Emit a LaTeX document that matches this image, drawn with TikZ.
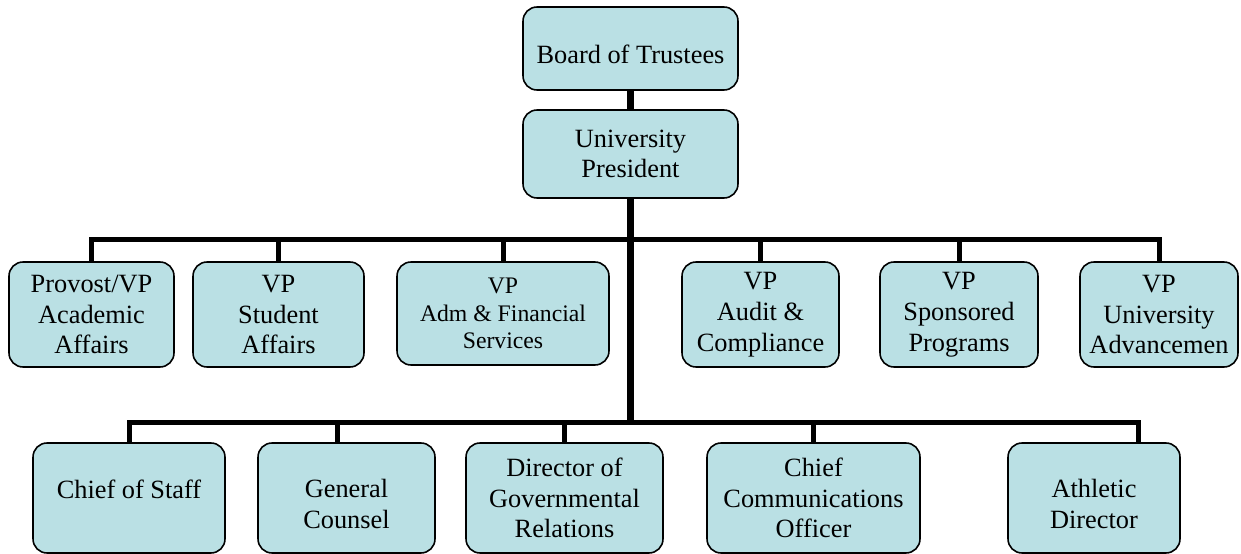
\documentclass[tikz,border=0pt]{standalone}
\usepackage{fontspec}
\setmainfont{Liberation Serif}
\usepackage{tikz}
\definecolor{paleteal}{RGB}{186,224,228}
\tikzset{
  post/.style={draw=black, line width=0.9pt, fill=paleteal, rounded corners=0.28cm,
    align=center, inner sep=2pt, minimum height=2.1cm,
    font=\fontsize{15}{17.5}\selectfont},
  trunk/.style={line width=0.14cm},
  bar/.style={line width=0.1cm}
}
\begin{document}
\begin{tikzpicture}[x=0.02cm,y=-0.02cm]
\useasboundingbox (0,0) rectangle (1241,554);
\node[post, minimum width=4.3cm, minimum height=1.66cm] (board) at (630.5,48.5) {~\\Board of Trustees};
\node[post, minimum width=4.3cm, minimum height=1.76cm] (pres) at (630.5,154) {University\\President};
\coordinate (upbar) at (630.5,239);
\coordinate (lowbar) at (630.5,422);
\node[post, minimum width=3.3cm] (provost) at (91.5,314.5) {Provost/VP\\Academic\\Affairs};
\node[post, minimum width=3.42cm] (stuaff) at (278.5,314.5) {VP\\Student\\Affairs};
\node[post, minimum width=4.24cm, minimum height=2.06cm, font=\fontsize{13.5}{15.5}\selectfont] (admfin) at (503,313.5) {VP\\Adm \& Financial\\Services};
\node[post, minimum width=3.14cm] (audit) at (760.5,314.5) {VP\\Audit \&\\Compliance};
\node[post, minimum width=3.16cm] (sponsor) at (959,314.5) {VP\\Sponsored\\Programs};
\node[post, minimum width=3.16cm] (advance) at (1159,314.5) {VP\\University\\Advancemen};
\node[post, minimum width=3.84cm, minimum height=2.2cm] (chief) at (129,498) {~\\Chief of Staff\\~};
\node[post, minimum width=3.54cm, minimum height=2.2cm] (gencoun) at (346.5,498) {~\\General\\Counsel};
\node[post, minimum width=3.94cm, minimum height=2.2cm] (govrel) at (564.5,498) {Director of\\Governmental\\Relations};
\node[post, minimum width=4.26cm, minimum height=2.2cm] (comms) at (813.5,498) {Chief\\Communications\\Officer};
\node[post, minimum width=3.44cm, minimum height=2.2cm] (athletic) at (1094,498) {~\\Athletic\\Director};
\draw[trunk] (board) -- (pres);
\draw[trunk] (pres) -- (lowbar);
\foreach \n in {provost,stuaff,admfin,audit,sponsor,advance}
  \draw[bar] (upbar) -| (\n.north);
\foreach \n in {chief,govrel,comms}
  \draw[bar] (lowbar) -| (\n.north);
\draw[bar] (lowbar) -| ([xshift=-0.19cm]gencoun.north);
\draw[bar] (lowbar) -| ([xshift=0.88cm]athletic.north);
\end{tikzpicture}
\end{document}
